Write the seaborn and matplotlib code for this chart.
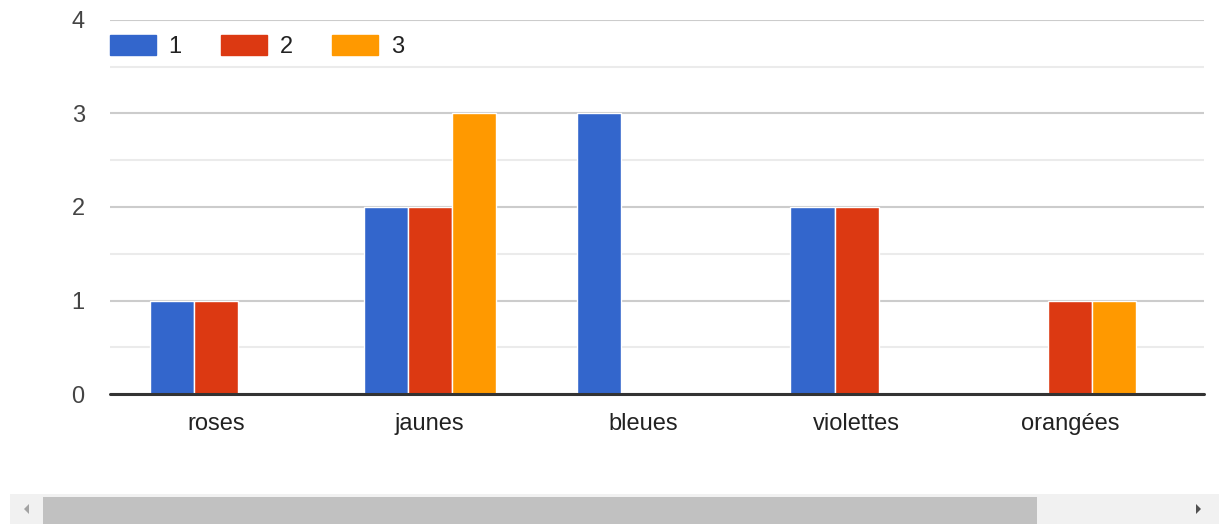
import numpy as np
import pandas as pd
import seaborn as sns
import matplotlib.pyplot as plt
from matplotlib.patches import Rectangle, Polygon

categories = ['roses', 'jaunes', 'bleues', 'violettes', 'orangées']
series_names = ['1', '2', '3']
values_1 = [1, 2, 3, 2, 0]
values_2 = [1, 2, 0, 2, 1]
values_3 = [0, 3, 0, 0, 1]
palette = ['#3366cc', '#dc3912', '#ff9900']

df = pd.DataFrame({
    'category': categories * 3,
    'serie': [s for s in series_names for _ in categories],
    'value': values_1 + values_2 + values_3,
})

sns.set_theme(style='white')
plt.rcParams['font.family'] = ['Liberation Sans', 'DejaVu Sans']

fig = plt.figure(figsize=(12.19, 5.24), dpi=100)
ax = fig.add_axes([0.090, 0.248, 0.898, 0.714])

sns.barplot(data=df, x='category', y='value', hue='serie', order=categories,
            hue_order=series_names, palette=palette, width=0.62, saturation=1,
            edgecolor='white', linewidth=1, legend=False, ax=ax, zorder=3)

ax.set_xlim(-0.5, 4.63)
ax.set_ylim(0, 4)
ax.set_yticks([0, 1, 2, 3, 4])
ax.set_yticks([0.5, 1.5, 2.5, 3.5], minor=True)
ax.grid(axis='y', which='major', color='#cccccc', linewidth=1.5, zorder=0)
ax.grid(axis='y', which='minor', color='#ebebeb', linewidth=1.5, zorder=0)
ax.grid(axis='x', visible=False)
ax.set_axisbelow(True)
ax.axhline(0, color='#333333', linewidth=2.2, zorder=5, clip_on=False)

for s in ax.spines.values():
    s.set_visible(False)
ax.set_xlabel('')
ax.set_ylabel('')
ax.tick_params(axis='y', which='both', length=0, pad=18, labelsize=17, labelcolor='#444444')
ax.tick_params(axis='x', length=0, pad=13.5, labelsize=17, labelcolor='#222222')

handles = [Rectangle((0, 0), 1, 1, color=c) for c in palette]
ax.legend(handles, series_names, loc='upper left', bbox_to_anchor=(0.0, 0.959),
          ncol=3, frameon=False, fontsize=17, handlelength=1.95, handleheight=0.93,
          handletextpad=0.55, columnspacing=1.66, borderpad=0, borderaxespad=0,
          labelcolor='#222222')

# scrollbar
fig.patches.append(Rectangle((10 / 1219, 0), 1209 / 1219, 30 / 524, transform=fig.transFigure,
                             facecolor='#f1f1f1', edgecolor='none'))
fig.patches.append(Rectangle((43 / 1219, 0), 994 / 1219, 27 / 524, transform=fig.transFigure,
                             facecolor='#c1c1c1', edgecolor='none'))
fig.patches.append(Polygon([[29 / 1219, 20 / 524], [29 / 1219, 10 / 524], [24 / 1219, 15 / 524]],
                           closed=True, transform=fig.transFigure, facecolor='#a3a3a3',
                           edgecolor='none'))
fig.patches.append(Polygon([[1196 / 1219, 20 / 524], [1196 / 1219, 10 / 524], [1201 / 1219, 15 / 524]],
                           closed=True, transform=fig.transFigure, facecolor='#505050',
                           edgecolor='none'))

fig.savefig('out.png', dpi=100)
